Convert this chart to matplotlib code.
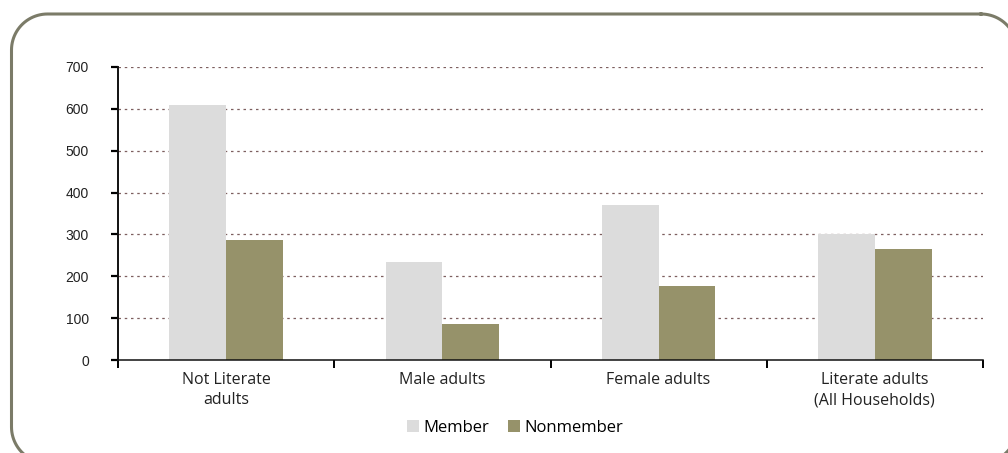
import matplotlib
matplotlib.use("Agg")
import matplotlib.pyplot as plt
import numpy as np
from matplotlib.patches import Patch

categories = ["Not Literate\nadults", "Male adults", "Female adults",
              "Literate adults\n(All Households)"]
member = [610, 233, 370, 300]
nonmember = [286, 85, 176, 264]
yticks = [0, 100, 200, 300, 400, 500, 600, 700]

member_color = "#dcdcdc"
nonmember_color = "#96926a"
grid_color = "#7d5f5f"

W, H = 1008, 453
fig = plt.figure(figsize=(W / 100, H / 100), dpi=100)
fig.patch.set_facecolor("white")


def rounded_rect(x0, y0, x1, y1, r, n=24):
    """Outline of a rounded rectangle in pixel units (y grows downward)."""
    pts = []
    corners = [((x1 - r, y0 + r), -90, 0), ((x1 - r, y1 - r), 0, 90),
               ((x0 + r, y1 - r), 90, 180), ((x0 + r, y0 + r), 180, 270)]
    for (cx, cy), a0, a1 in corners:
        t = np.radians(np.linspace(a0, a1, n))
        pts.append(np.column_stack([cx + r * np.cos(t), cy + r * np.sin(t)]))
    pts = np.vstack(pts + [pts[0][:1]])
    return pts[:, 0], pts[:, 1]


# background layer in pixel units holding the rounded frame
bg = fig.add_axes([0, 0, 1, 1], zorder=-1)
bg.set_xlim(0, W)
bg.set_ylim(H, 0)
bg.axis("off")
fx, fy = rounded_rect(11.5, 14, 1017, 463, 36)
bg.plot(fx, fy, color="#7b7b68", linewidth=2.2, solid_joinstyle="round")

ax = fig.add_axes([118 / W, 1 - 360 / H, 865 / W, 293 / H])
ax.set_facecolor("none")

x = np.arange(len(categories))
w = 0.262
ax.bar(x - w / 2, member, w, color=member_color, zorder=2)
ax.bar(x + w / 2, nonmember, w, color=nonmember_color, zorder=2)

ax.set_xlim(-0.5, len(categories) - 0.5)
ax.set_ylim(0, 700)
ax.set_yticks(yticks)
ax.set_yticklabels([str(v) for v in yticks], fontsize=10,
                   family="Liberation Sans", color="#222222")
ax.tick_params(axis="y", length=5, width=1.6, direction="out", pad=16)

ax.set_xticks(x)
ax.set_xticklabels(categories, fontsize=11.5, family="Open Sans",
                   color="#222222", linespacing=1.3)
ax.tick_params(axis="x", length=0, pad=9)
ax.set_xticks(np.arange(-0.5, len(categories)), minor=True)
ax.tick_params(axis="x", which="minor", length=6, width=1.4, direction="out")

for v in yticks[1:]:
    ax.axhline(v, color=grid_color, linestyle=(0, (2, 3)), linewidth=0.9,
               zorder=1)

for s in ["top", "right"]:
    ax.spines[s].set_visible(False)
ax.spines["left"].set_linewidth(1.4)
ax.spines["bottom"].set_linewidth(1.1)
ax.spines["left"].set_color("#111111")
ax.spines["bottom"].set_color("#111111")

handles = [Patch(facecolor=member_color, label="Member"),
           Patch(facecolor=nonmember_color, label="Nonmember")]
fig.legend(handles=handles, loc="center", bbox_to_anchor=(515 / W, 1 - 428 / H),
           ncol=2, frameon=False, handlelength=0.75, handleheight=0.75,
           handletextpad=0.25, columnspacing=1.1,
           prop={"family": "Open Sans", "size": 12})

fig.savefig("out.png", dpi=100)
